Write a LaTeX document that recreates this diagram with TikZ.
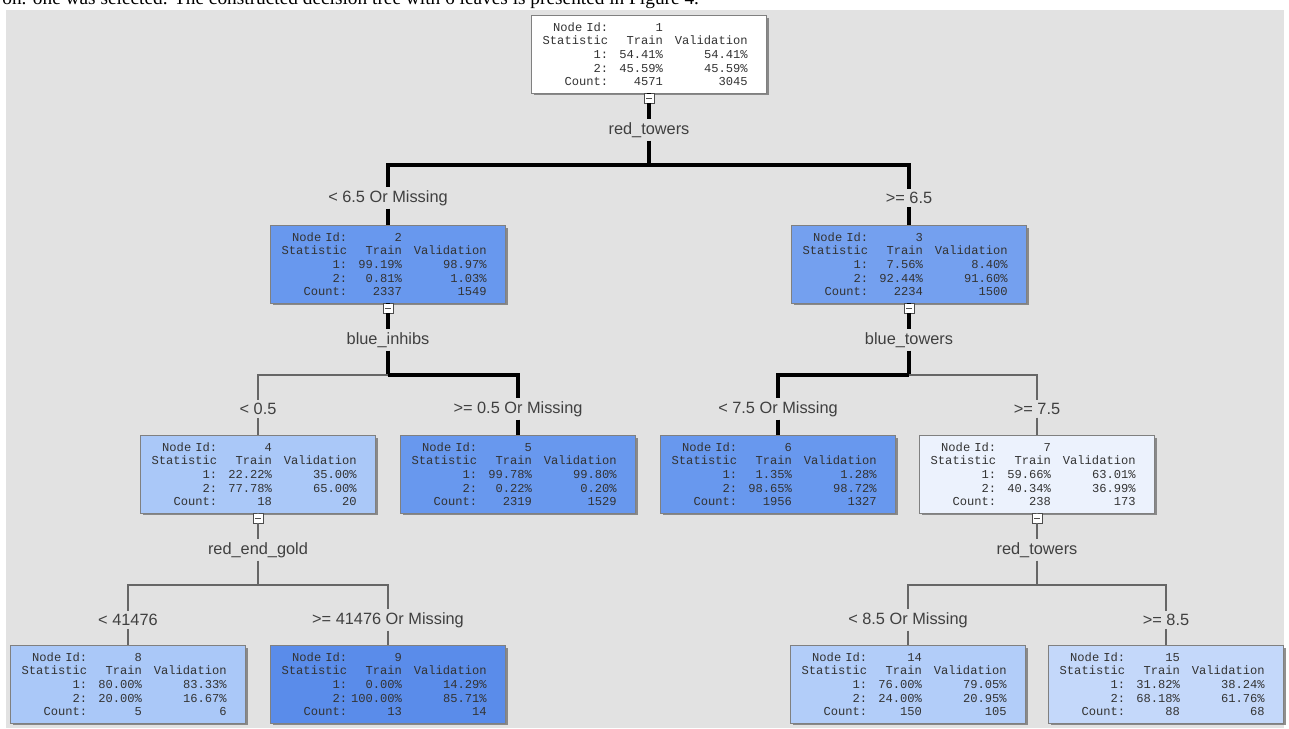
\documentclass[tikz,border=0pt]{standalone}
\usepackage{fontspec}
\setmainfont{Liberation Sans}
\newfontfamily\boxfont{Liberation Mono}
\newfontfamily\pagefont{Liberation Serif}
\usetikzlibrary{shadows}
\definecolor{panel}{RGB}{226,226,226}
\definecolor{pure}{RGB}{104,152,238}
\definecolor{purest}{RGB}{90,140,234}
\definecolor{mid}{RGB}{170,200,248}
\definecolor{pale}{RGB}{196,216,250}
\definecolor{faint}{RGB}{236,242,253}
% one row of a node table, columns right aligned
\newcommand\statrow[3]{\makebox[43.7pt][r]{#1}\makebox[31.2pt][r]{#2}\makebox[48.2pt][r]{#3}}
\newcommand\stats[7]{\statrow{Node Id:}{#1}{}\\\statrow{Statistic}{Train}{Validation}\\
  \statrow{1:}{#2}{#3}\\\statrow{2:}{#4}{#5}\\\statrow{Count:}{#6}{#7}}
\begin{document}
\begin{tikzpicture}[x=0.02cm,y=-0.02cm,
    leaf/.style={draw=black!50,anchor=north,text width=133.9pt,minimum height=44.2pt,
      inner xsep=0pt,inner ysep=2pt,align=left,text=black!80,
      font=\boxfont\fontsize{6.9}{7.8}\selectfont,
      drop shadow={shadow xshift=1.3pt,shadow yshift=-1.3pt,fill=black!55,opacity=.8}},
    knob/.style={draw=black!70,fill=white,minimum size=5.6pt,inner sep=0pt,
      path picture={\draw[black!70] ([xshift=1.2pt]path picture bounding box.west)
        -- ([xshift=-1.2pt]path picture bounding box.east);}},
    split/.style={fill=panel,inner sep=1.5pt,text=black!75,font=\fontsize{9.3}{11}\selectfont},
    thk/.style={line width=2.3pt,black},
    thn/.style={line width=.6pt,black!60}]
  \useasboundingbox (0,0) rectangle (1289,728);
  \clip (0,0) rectangle (1289,728);
  \fill[panel] (6,10) rectangle (1284,728);
  \node[anchor=base west,inner sep=0pt,font=\pagefont\fontsize{11}{13}\selectfont] (caption) at (2,4)
    {on. one was selected. The constructed decision tree with 6 leaves is presented in Figure 4.};

  % nodes of the tree
  \node[leaf,fill=white] (n1) at (649,15) {\stats{1}{54.41\%}{54.41\%}{45.59\%}{45.59\%}{4571}{3045}};
  \node[leaf,fill=pure] (n2) at (388,225) {\stats{2}{99.19\%}{98.97\%}{0.81\%}{1.03\%}{2337}{1549}};
  \node[leaf,fill=pure!92!white] (n3) at (909,225) {\stats{3}{7.56\%}{8.40\%}{92.44\%}{91.60\%}{2234}{1500}};
  \node[leaf,fill=mid] (n4) at (258,435) {\stats{4}{22.22\%}{35.00\%}{77.78\%}{65.00\%}{18}{20}};
  \node[leaf,fill=pure] (n5) at (518,435) {\stats{5}{99.78\%}{99.80\%}{0.22\%}{0.20\%}{2319}{1529}};
  \node[leaf,fill=pure] (n6) at (778,435) {\stats{6}{1.35\%}{1.28\%}{98.65\%}{98.72\%}{1956}{1327}};
  \node[leaf,fill=faint] (n7) at (1037,435) {\stats{7}{59.66\%}{63.01\%}{40.34\%}{36.99\%}{238}{173}};
  \node[leaf,fill=mid] (n8) at (128,645) {\stats{8}{80.00\%}{83.33\%}{20.00\%}{16.67\%}{5}{6}};
  \node[leaf,fill=purest] (n9) at (388,645) {\stats{9}{0.00\%}{14.29\%}{100.00\%}{85.71\%}{13}{14}};
  \node[leaf,fill=mid!90!white] (n14) at (908,645) {\stats{14}{76.00\%}{79.05\%}{24.00\%}{20.95\%}{150}{105}};
  \node[leaf,fill=pale] (n15) at (1166,645) {\stats{15}{31.82\%}{38.24\%}{68.18\%}{61.76\%}{88}{68}};

  % splits: knob, variable name, bend point
  \foreach \p/\v/\x/\y in {1/red\_towers/649/15,2/blue\_inhibs/388/225,3/blue\_towers/909/225,
      4/red\_end\_gold/258/435,7/red\_towers/1037/435}{
    \node[knob] (k\p) at (\x,\y+83) {};
    \node[split] (s\p) at (\x,\y+115) {\v};
    \coordinate (h\p) at (\x,\y+150);
  }

  % branch labels
  \node[split] (b2) at (388,198) {< 6.5 Or Missing};
  \node[split] (b3) at (909,198) {>= 6.5};
  \node[split] (b4) at (258,409) {< 0.5};
  \node[split] (b5) at (518,409) {>= 0.5 Or Missing};
  \node[split] (b6) at (778,409) {< 7.5 Or Missing};
  \node[split] (b7) at (1037,409) {>= 7.5};
  \node[split] (b8) at (128,620) {< 41476};
  \node[split] (b9) at (388,620) {>= 41476 Or Missing};
  \node[split] (b14) at (908,620) {< 8.5 Or Missing};
  \node[split] (b15) at (1166,620) {>= 8.5};

  % connectors
  \foreach \p/\w in {1/thk,2/thk,3/thk,4/thn,7/thn}{
    \draw[\w] (n\p) -- (k\p) -- (s\p) -- (h\p);
  }
  \foreach \p/\c/\w in {1/2/thk,1/3/thk,2/4/thn,2/5/thk,3/6/thk,3/7/thn,
      4/8/thn,4/9/thn,7/14/thn,7/15/thn}{
    \draw[\w] (h\p) -| (b\c);
    \draw[\w] (b\c) -- (n\c);
  }
\end{tikzpicture}
\end{document}
